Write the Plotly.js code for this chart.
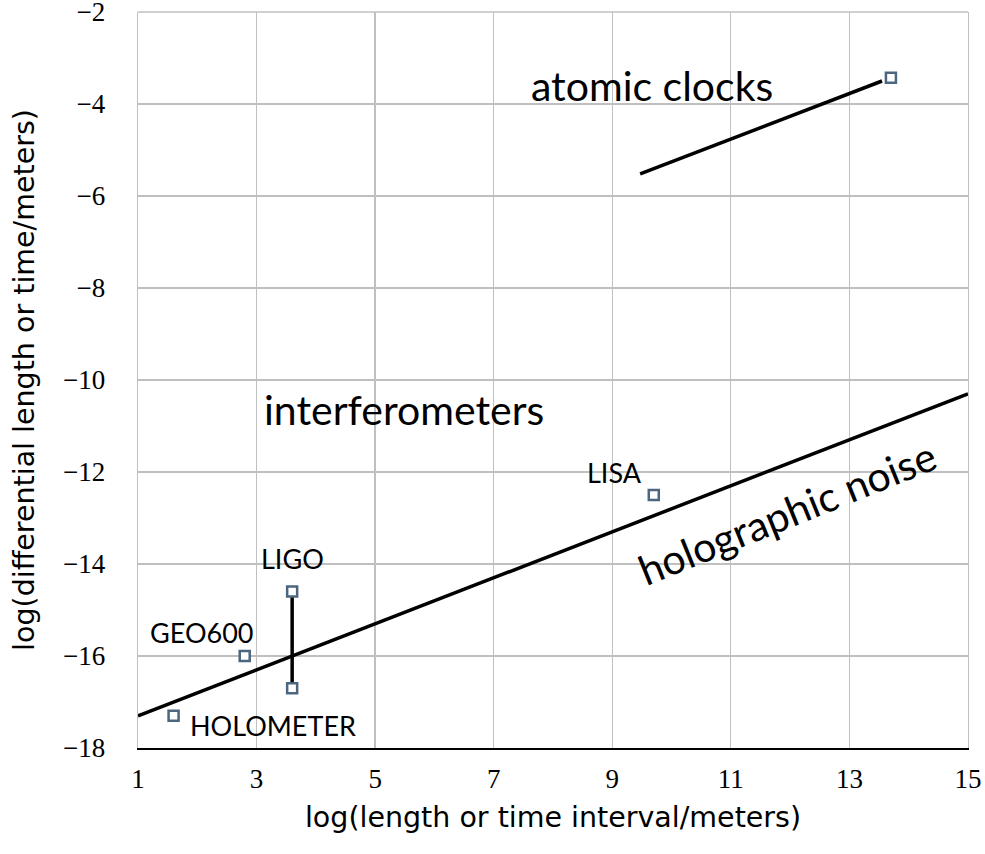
<!DOCTYPE html>
<html>
<head>
<meta charset="utf-8">
<script src="https://cdn.plot.ly/plotly-3.0.1.min.js"></script>
<style>html,body{margin:0;padding:0;background:#fff;}#chart{width:985px;height:854px;}</style>
</head>
<body>
<div id="chart"></div>
<script>
// Experiments (log length / log differential length)
const expNames = ['HOLOMETER', 'GEO600', 'LIGO', 'LIGO', 'LISA', 'atomic clocks'];
const expX = [1.6, 2.8, 3.6, 3.6, 9.7, 13.7];
const expY = [-17.3, -16.0, -14.6, -16.7, -12.5, -3.43];

// LIGO range line
const ligoX = [3.6, 3.6];
const ligoY = [-14.6, -16.7];

// Holographic noise line
const holoX = [1, 15];
const holoY = [-17.3, -10.3];

// Atomic clocks line
const clockX = [9.47, 13.55];
const clockY = [-5.52, -3.5];

// Ticks
const xTicks = [1, 3, 5, 7, 9, 11, 13, 15];
const yTicks = [-2, -4, -6, -8, -10, -12, -14, -16, -18];

// Text labels
const labelText = ['atomic clocks', 'interferometers', 'holographic noise', 'LISA', 'LIGO', 'GEO600', 'HOLOMETER'];
const labelX = [9.67, 5.49, 11.95, 9.03, 3.6, 2.08, 3.28];
const labelY = [-3.59, -10.65, -12.89, -12.02, -13.87, -15.48, -17.52];
const labelSize = [41, 41, 41, 27, 27, 27, 27];
const labelAngle = [0, 0, -22, 0, 0, 0, 0];

const lineStyle = {color: '#000', width: 3.5};
const traces = [
  {x: holoX, y: holoY, mode: 'lines', line: lineStyle, hoverinfo: 'skip'},
  {x: clockX, y: clockY, mode: 'lines', line: lineStyle, hoverinfo: 'skip'},
  {x: ligoX, y: ligoY, mode: 'lines', line: lineStyle, hoverinfo: 'skip'},
  {x: expX, y: expY, text: expNames, mode: 'markers',
   marker: {symbol: 'square', size: 10, color: '#ffffff', line: {color: '#4d6680', width: 2.5}}}
];

const annotations = labelText.map((t, i) => ({
  x: labelX[i], y: labelY[i], xref: 'x', yref: 'y', text: t, showarrow: false,
  textangle: labelAngle[i],
  font: {family: 'Lato, sans-serif', size: labelSize[i], color: '#000'}
}));

const serif = 'Liberation Serif, Times New Roman, serif';
const sans = 'DejaVu Sans, sans-serif';

const layout = {
  width: 985, height: 854,
  margin: {l: 138, r: 17, t: 12, b: 106},
  paper_bgcolor: '#fff', plot_bgcolor: '#fff',
  showlegend: false,
  font: {family: serif, size: 27, color: '#000'},
  xaxis: {
    range: [0.9999, 15.0001], tickvals: xTicks, ticks: '', showgrid: true, gridcolor: '#c0c0c0', gridwidth: 1.3,
    zeroline: false, showline: true, linecolor: '#000', linewidth: 2,
    ticklabelstandoff: 6, ticklabeloverflow: 'allow',
    tickfont: {family: serif, size: 27, color: '#000'},
    title: {text: 'log(length or time interval/meters)', standoff: 14,
            font: {family: sans, size: 28.5, color: '#000'}}
  },
  yaxis: {
    range: [-18.0001, -1.9999], tickvals: yTicks, ticks: '', showgrid: true, gridcolor: '#c0c0c0', gridwidth: 1.3,
    zeroline: false, showline: true, linecolor: '#c0c0c0', linewidth: 1.3, mirror: true,
    ticklabelstandoff: 26, ticklabeloverflow: 'allow',
    tickfont: {family: serif, size: 27, color: '#000'},
    title: {text: 'log(differential length or time/meters)', standoff: 20,
            font: {family: sans, size: 28.5, color: '#000'}}
  },
  shapes: [
    {type: 'line', xref: 'paper', yref: 'paper', x0: 0, x1: 1, y0: 1, y1: 1,
     line: {color: '#c0c0c0', width: 1.3}, layer: 'below'}
  ],
  annotations: annotations
};

Plotly.newPlot('chart', traces, layout, {displayModeBar: false, staticPlot: true});
</script>
</body>
</html>
